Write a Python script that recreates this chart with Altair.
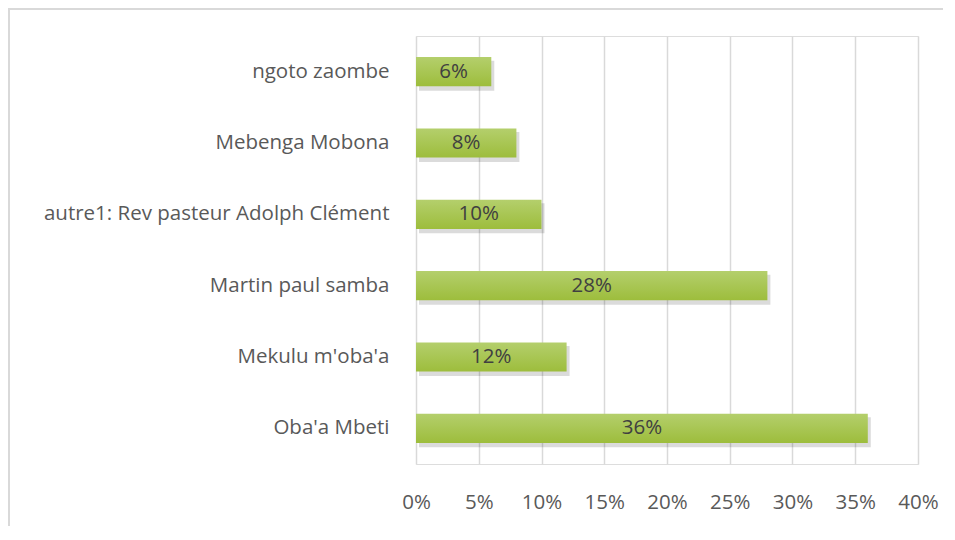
import altair as alt
import pandas as pd

categories = ["ngoto zaombe", "Mebenga Mobona", "autre1: Rev pasteur Adolph Clément",
              "Martin paul samba", "Mekulu m'oba'a", "Oba'a Mbeti"]
values = [0.06, 0.08, 0.10, 0.28, 0.12, 0.36]
labels = ["6%", "8%", "10%", "28%", "12%", "36%"]
x_ticks = [0, 0.05, 0.10, 0.15, 0.20, 0.25, 0.30, 0.35, 0.40]

df = pd.DataFrame({"cat": categories, "val": values, "lab": labels})
df["half"] = df["val"] / 2

FONT = "Open Sans"
FS = 20.5
TXT = "#595959"
BARTXT = "#404040"

xscale = alt.Scale(domain=[0, 0.4], nice=False, zero=True)
yscale = alt.Scale(domain=categories, paddingInner=0.59, paddingOuter=0.295)

base = alt.Chart(df)

shadow = base.mark_bar(color="#000000", opacity=0.14, xOffset=3, yOffset=4, size=30).encode(
    x=alt.X("val:Q", scale=xscale,
            axis=alt.Axis(values=x_ticks, format=".0%", title=None, grid=True,
                          gridColor="#d9d9d9", gridWidth=1.5, domain=False, ticks=False,
                          labelFont=FONT, labelFontSize=FS, labelColor=TXT, labelPadding=28,
                          labelFlush=False, labelOverlap=False)),
    y=alt.Y("cat:N", scale=yscale, sort=categories,
            axis=alt.Axis(title=None, domain=False, ticks=False, labelFont=FONT,
                          labelFontSize=FS, labelColor=TXT, labelPadding=27, labelLimit=500)),
)

bars = base.mark_bar(
    color=alt.Gradient(gradient="linear", x1=0, y1=0, x2=0, y2=1,
                       stops=[alt.GradientStop(color="#b4cf6c", offset=0),
                              alt.GradientStop(color="#9dbd3c", offset=1)]),
    cornerRadius=0,
).encode(
    x=alt.X("val:Q", scale=xscale),
    y=alt.Y("cat:N", scale=yscale, sort=categories),
)

text = base.mark_text(font=FONT, fontSize=FS, color=BARTXT, baseline="middle", align="center").encode(
    x=alt.X("half:Q", scale=xscale),
    y=alt.Y("cat:N", scale=yscale, sort=categories),
    text="lab:N",
)

border_left = alt.Chart(pd.DataFrame({"a": [0]})).mark_rule(color="#d9d9d9", strokeWidth=2).encode(
    x=alt.value(-407), y=alt.value(-28), y2=alt.value(520))
border_top = alt.Chart(pd.DataFrame({"a": [0]})).mark_rule(color="#d9d9d9", strokeWidth=2).encode(
    x=alt.value(-408), x2=alt.value(530), y=alt.value(-27))

chart = alt.layer(shadow, bars, text, border_left, border_top).properties(
    width=502, height=428,
    autosize=alt.AutoSizeParams(type="none"),
    padding={"left": 408, "top": 28, "right": 25, "bottom": 62},
).configure_view(stroke=None).configure(background="white")

chart.save("out.html", embed_options={"renderer": "svg", "actions": False})
